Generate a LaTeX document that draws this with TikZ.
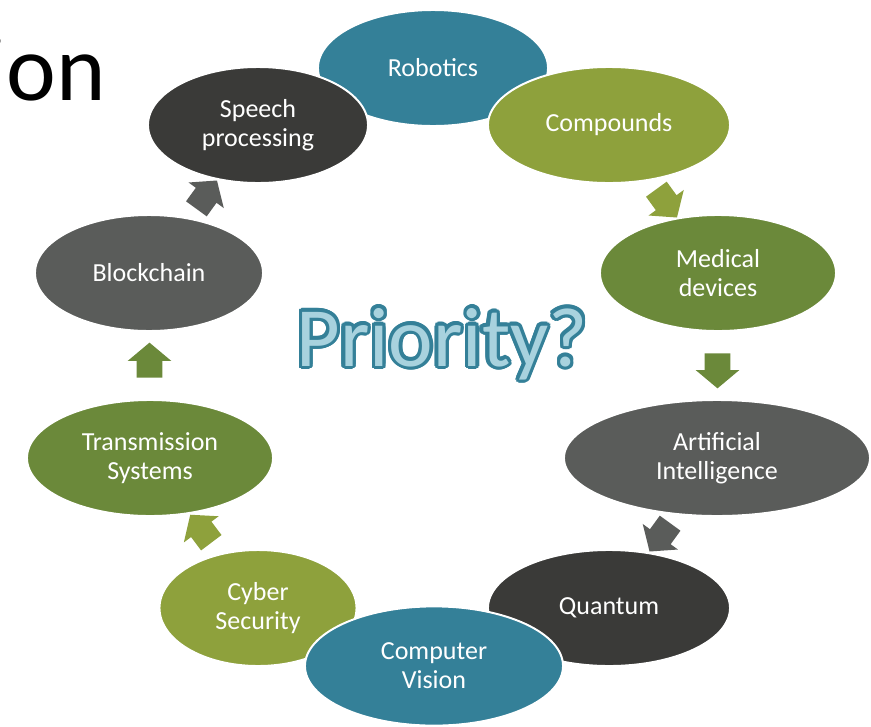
\documentclass[tikz,border=0pt]{standalone}
\usepackage{fontspec}
\setmainfont{Carlito}
\usetikzlibrary{shapes.geometric,shapes.arrows,calc}

\definecolor{tealblue}{RGB}{52,128,152}
\definecolor{lightteal}{RGB}{168,210,222}
\definecolor{olive}{RGB}{142,161,60}
\definecolor{leafgreen}{RGB}{107,137,58}
\definecolor{midgray}{RGB}{90,92,90}
\definecolor{darkgray}{RGB}{58,58,56}

\tikzset{
	topic/.style={ellipse, draw=white, line width=1.4pt, text=white, inner sep=0pt, align=center, font=\fontsize{18.5}{20.6}\selectfont, minimum height=2.9cm},
	cyclearrow/.style={single arrow, draw=none, inner xsep=0pt, inner ysep=0.3125cm, minimum height=0.875cm, single arrow head extend=0.225cm, single arrow tip angle=100},
	prio/.style={anchor=base, inner sep=0pt, font=\fontsize{60}{61}\selectfont}
}

\begin{document}
\begin{tikzpicture}[x=0.025cm, y=-0.025cm]
	\useasboundingbox (0,0) rectangle (871,726);
	\clip (0,0) rectangle (871,726);

	% title remains
	\node[anchor=base east, inner sep=0pt, font=\fontsize{67}{67}\selectfont] (title) at (106,100) {ion};

	% cycle of topics
	\node[topic, fill=tealblue, minimum width=5.75cm] (rob) at (433,68) {Robotics};
	\node[topic, fill=olive, minimum width=6.05cm] (comp) at (609,125) {Compounds};
	\node[topic, fill=leafgreen, minimum width=5.9cm] (med) at (718,273) {Medical\\devices};
	\node[topic, fill=midgray, minimum width=7.65cm] (ai) at (717,458) {Artificial\\Intelligence};
	\node[topic, fill=darkgray, minimum width=6.05cm] (quant) at (609,608) {Quantum};
	\node[topic, fill=olive, minimum width=4.925cm] (cyber) at (258,608) {Cyber\\Security};
	\node[topic, fill=tealblue, minimum width=6.45cm, minimum height=2.98cm] (vision) at (434,666) {Computer\\Vision};
	\node[topic, fill=leafgreen, minimum width=6.15cm] (trans) at (150,458) {Transmission\\Systems};
	\node[topic, fill=midgray, minimum width=5.7cm] (block) at (149,273) {Blockchain};
	\node[topic, fill=darkgray, minimum width=5.5cm] (speech) at (258,125) {Speech\\processing};

	% arrows between topics
	\node[cyclearrow, fill=olive, rotate=-54] (a1) at ($(comp)!.5!(med)$) {};
	\node[cyclearrow, fill=leafgreen, rotate=-90] (a2) at ($(med)!.5!(ai)$) {};
	\node[cyclearrow, fill=midgray, rotate=-126] (a3) at ($(ai)!.5!(quant)$) {};
	\node[cyclearrow, fill=olive, rotate=127] (a4) at ($(cyber)!.5!(trans)$) {};
	\node[cyclearrow, fill=leafgreen, rotate=90] (a5) at ($(trans)!.5!(block)$) {};
	\node[cyclearrow, fill=midgray, rotate=54] (a6) at ($(block)!.5!(speech)$) {};

	% outlined centre text
	\coordinate (prio) at (442,366);
	\foreach \a in {0,20,...,340}
		\node[prio, text=tealblue] at ($(prio)+(\a:2.4pt)$) {Priority?};
	\node[prio, text=lightteal] (priority) at (prio) {Priority?};
\end{tikzpicture}
\end{document}
